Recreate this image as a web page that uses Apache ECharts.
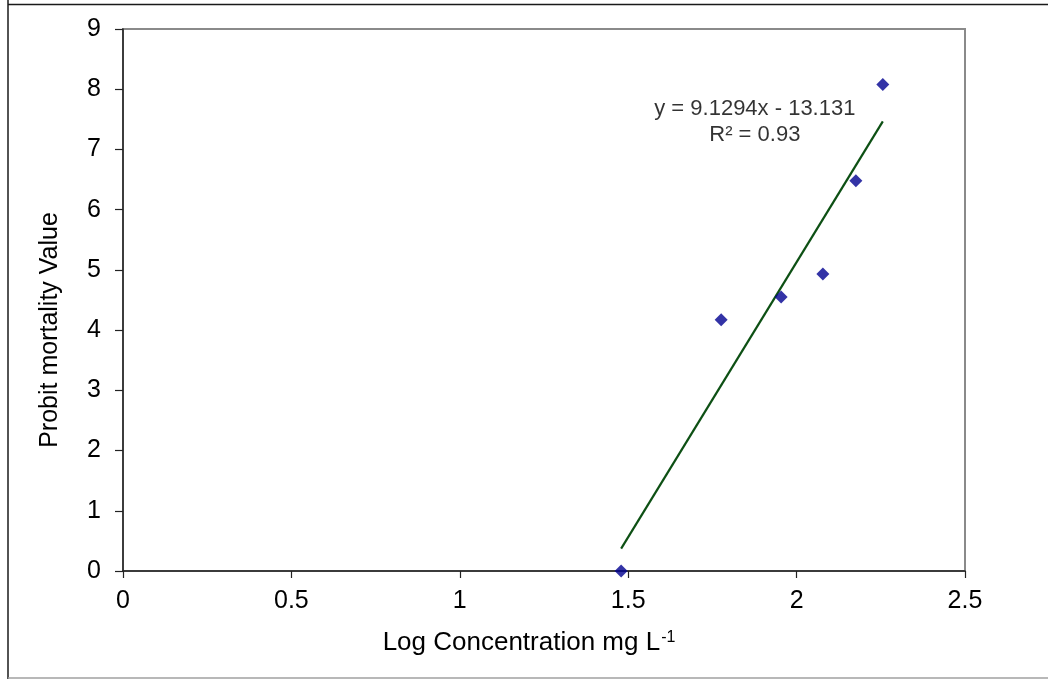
<!DOCTYPE html>
<html>
<head>
<meta charset="utf-8">
<script src="https://cdn.jsdelivr.net/npm/echarts@6/dist/echarts.min.js"></script>
<style>
html,body{margin:0;padding:0;background:#fff;}
#c{width:1048px;height:679px;}
</style>
</head>
<body>
<div id="c"></div>
<script>
// Observed data (log concentration, probit mortality)
const logConc = [1.479, 1.776, 1.954, 2.078, 2.176, 2.256];
const probit  = [0.00, 4.17, 4.55, 4.93, 6.48, 8.08];
// Trendline as reported on the chart
const slope = 9.1294;
const intercept = -13.131;
const r2Label = 'R² = 0.93';
const eqLabel = 'y = 9.1294x - 13.131';
const xTicks = [0, 0.5, 1, 1.5, 2, 2.5];
const yTicks = [0, 1, 2, 3, 4, 5, 6, 7, 8, 9];

const points = logConc.map((x, i) => [x, probit[i]]);
const xMin = Math.min(...logConc), xMax = Math.max(...logConc);
const trend = [[xMin, slope * xMin + intercept], [xMax, slope * xMax + intercept]];

const FONT = '"Liberation Sans", Arial, sans-serif';
const chart = echarts.init(document.getElementById('c'));
chart.setOption({
  animation: false,
  backgroundColor: '#fff',
  textStyle: { fontFamily: FONT },
  graphic: [
    { type: 'line', z: 100, silent: true, shape: { x1: 8, y1: 0, x2: 8, y2: 679 }, style: { stroke: '#1a1a1a', lineWidth: 1.5 } },
    { type: 'line', z: 100, silent: true, shape: { x1: 8, y1: 4.5, x2: 1048, y2: 4.5 }, style: { stroke: '#1a1a1a', lineWidth: 1.5 } },
    { type: 'line', z: 100, silent: true, shape: { x1: 8, y1: 678, x2: 1048, y2: 678 }, style: { stroke: '#a0a0a0', lineWidth: 1.5 } }
  ],
  grid: {
    left: 123, top: 29, right: 83, bottom: 108,
    show: true, borderColor: '#8a8a8a', borderWidth: 2, backgroundColor: '#fff'
  },
  xAxis: {
    type: 'value', min: 0, max: 2.5, interval: 0.5,
    name: 'Log Concentration mg L{sup|-1}',
    nameLocation: 'middle', nameGap: 59,
    nameTextStyle: {
      color: '#000', fontSize: 26, fontFamily: FONT, verticalAlign: 'top',
      padding: [0, 30, 0, 0],
      rich: { sup: { fontSize: 16, color: '#000', fontFamily: FONT, verticalAlign: 'top', padding: [0, 0, 0, 1] } }
    },
    axisLine: { show: true, onZero: false, lineStyle: { color: '#222', width: 1.5 } },
    axisTick: { show: true, inside: false, length: 7, lineStyle: { color: '#222', width: 1.2 } },
    axisLabel: { color: '#000', fontSize: 25, fontFamily: FONT, margin: 18,
      formatter: v => xTicks.includes(v) ? String(v) : '' },
    splitLine: { show: false }
  },
  yAxis: {
    type: 'value', min: 0, max: 9, interval: 1,
    name: 'Probit mortality Value',
    nameLocation: 'middle', nameGap: 60, nameRotate: 90,
    nameTextStyle: { color: '#000', fontSize: 25, fontFamily: FONT, padding: [0, 60, 0, 0] },
    axisLine: { show: true, onZero: false, lineStyle: { color: '#222', width: 1.5 } },
    axisTick: { show: true, inside: false, length: 8, lineStyle: { color: '#222', width: 1.2 } },
    axisLabel: { color: '#000', fontSize: 25, fontFamily: FONT, margin: 22,
      formatter: v => yTicks.includes(v) ? String(v) : '' },
    splitLine: { show: false }
  },
  series: [
    {
      type: 'line', data: trend, symbol: 'none', z: 2,
      lineStyle: { color: '#0d5014', width: 2.2 }
    },
    {
      type: 'scatter', data: points, symbol: 'diamond', symbolSize: 13, z: 3,
      itemStyle: { color: '#000090' }
    },
    {
      type: 'scatter', data: [[1.876, 7.45]], symbolSize: 0, z: 4, silent: true,
      label: {
        show: true, position: 'inside', color: '#000', fontSize: 22, fontFamily: FONT,
        lineHeight: 26, align: 'center', verticalAlign: 'middle',
        formatter: eqLabel + '\n' + r2Label
      }
    }
  ]
});
</script>
</body>
</html>
